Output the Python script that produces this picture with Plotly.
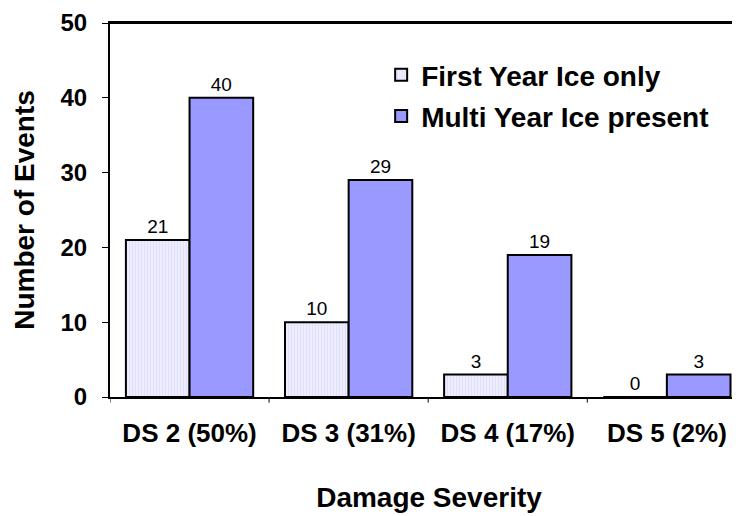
import plotly.graph_objects as go

categories = ["DS 2 (50%)", "DS 3 (31%)", "DS 4 (17%)", "DS 5 (2%)"]
first_year = [21, 10, 3, 0]
multi_year = [40, 29, 19, 3]
series_names = ["First Year Ice only", "Multi Year Ice present"]

FONT = "Liberation Sans, Arial, sans-serif"

fig = go.Figure()
fig.add_trace(go.Bar(
    x=categories, y=first_year, name=series_names[0], legendgroup="a",
    marker=dict(color="#EAEAFF", line=dict(color="black", width=2),
                pattern=dict(shape="|", fgcolor="#CFCFF2", bgcolor="#EDEDFF",
                             size=3, solidity=0.3)),
    text=[str(v) for v in first_year], textposition="outside",
    textfont=dict(size=19, color="black", family=FONT), cliponaxis=False,
))
fig.add_trace(go.Bar(
    x=categories, y=multi_year, name=series_names[1], legendgroup="b",
    marker=dict(color="#9999FF", line=dict(color="black", width=2)),
    text=[str(v) for v in multi_year], textposition="outside",
    textfont=dict(size=19, color="black", family=FONT), cliponaxis=False,
))

fig.update_layout(
    width=740, height=516,
    margin=dict(l=102, r=0, t=15, b=127),
    paper_bgcolor="white", plot_bgcolor="white",
    barmode="group", bargap=0.2, bargroupgap=0,
    font=dict(family=FONT, color="black"),
    showlegend=True,
    legend=dict(x=0.425, y=0.928, xanchor="left", yanchor="top",
                font=dict(size=28, family=FONT, weight="bold"),
                bgcolor="rgba(0,0,0,0)", tracegroupgap=2),
    xaxis=dict(
        range=[-0.5, 3.51], showline=True, linecolor="black", linewidth=2,
        mirror=True, ticks="", showgrid=False, automargin=False,
        tickfont=dict(size=26, family=FONT, weight="bold"),
        ticklabelstandoff=12,
        title=dict(text="Damage Severity", font=dict(size=28, family=FONT, weight="bold"),
                   standoff=40),
    ),
    yaxis=dict(
        range=[0, 50], dtick=10, showline=True, linecolor="black", linewidth=2,
        ticks="outside", ticklen=6, tickwidth=1, tickcolor="black", showgrid=False,
        zeroline=False, automargin=False, ticklabeloverflow="allow",
        tickfont=dict(size=24, family=FONT, weight="bold"),
        ticklabelstandoff=10,
        title=dict(text="Number of Events", font=dict(size=28, family=FONT, weight="bold"),
                   standoff=18),
    ),
)

# top border of the plot area
fig.add_shape(type="line", xref="paper", yref="paper", x0=0, x1=1, y0=1, y1=1,
              line=dict(color="black", width=2), layer="above")

# category boundary tick marks on the x axis (at -0.5, 0.5, 1.5, 2.5)
for b in [-0.5, 0.5, 1.5, 2.5]:
    fig.add_shape(type="line", xref="x", yref="paper", x0=b, x1=b, y0=0, y1=-0.015,
                  line=dict(color="black", width=1))

fig.write_html("out.html")
